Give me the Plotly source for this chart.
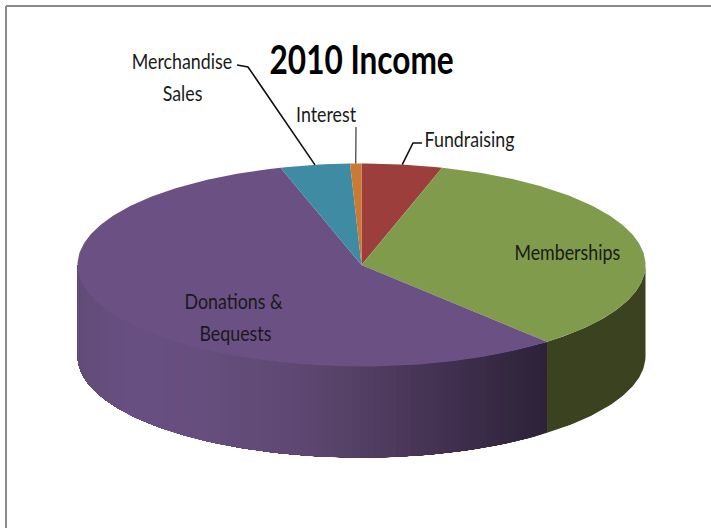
import numpy as np
import plotly.graph_objects as go

# Slices in clockwise order starting from 12 o'clock (percent of income)
categories = ["Fundraising", "Memberships", "Donations & Bequests", "Merchandise Sales", "Interest"]
values = [4.58, 34.09, 56.73, 3.96, 0.64]
top_colors = ["#9c3f3c", "#809b4b", "#6b5084", "#3f8ba3", "#cc7a33"]
title = "2010 Income"

# Presentation geometry of the tilted disc (pixels)
CX, CY, RX, RY, DEPTH = 361.5, 265.0, 284.0, 101.5, 91.0
FONT = "Lato, sans-serif"
GRAD_X = [78, 130, 200, 300, 360, 450, 547]
GRAD_RGB = [(98, 76, 120), (104, 79, 130), (102, 78, 126), (94, 72, 114), (84, 63, 100), (65, 48, 79), (44, 34, 56)]
MEMBER_SIDE = "#3a421f"

fracs = np.array(values, dtype=float) / sum(values)
edges = np.concatenate([[0], np.cumsum(fracs)]) * 2 * np.pi


def px(t):
    return CX + RX * np.sin(t)


def py(t):
    return CY - RY * np.cos(t)


fig = go.Figure()


def add_poly(x, y, color):
    fig.add_trace(go.Scatter(x=list(x), y=list(y), mode="lines", fill="toself", fillcolor=color,
                             line=dict(color=color, width=0), hoverinfo="skip", showlegend=False))


def side(t0, t1, color):
    t = np.linspace(t0, t1, max(3, int((t1 - t0) * 80)))
    add_poly(np.r_[px(t), px(t[::-1])], np.r_[py(t), py(t[::-1]) + DEPTH], color)


# Outer wall: Memberships slice is flat, Donations slice is shaded by horizontal position.
# Each strip runs to the end of the wall and the next one paints over it, so no seams appear.
mem_idx, don_idx = 1, 2
side(np.pi / 2, edges[mem_idx + 1], MEMBER_SIDE)
strip_edges = np.linspace(edges[don_idx], 1.5 * np.pi, 90)
for a, b in zip(strip_edges[:-1], strip_edges[1:]):
    xm = px((a + b) / 2)
    rgb = [int(round(np.interp(xm, GRAD_X, [c[i] for c in GRAD_RGB]))) for i in range(3)]
    side(a, 1.5 * np.pi, f"rgb({rgb[0]},{rgb[1]},{rgb[2]})")

# Top face
for i, color in enumerate(top_colors):
    t = np.linspace(edges[i], edges[i + 1], max(3, int(fracs[i] * 400)))
    add_poly(np.r_[CX, px(t), CX], np.r_[CY, py(t), CY], color)

# Leader lines from slice mid-points to their labels
mid = (edges[:-1] + edges[1:]) / 2
leader_color = "#111111"
legs = [
    (0, [(413, 143), (422, 143)]),
    (3, [(248, 67), (237, 65)]),
    (4, [(356, 127)]),
]
for idx, pts in legs:
    xs = [px(mid[idx])] + [p[0] for p in pts]
    ys = [py(mid[idx])] + [p[1] for p in pts]
    fig.add_trace(go.Scatter(x=xs, y=ys, mode="lines", line=dict(color=leader_color, width=1.6 if idx != 4 else 1),
                             hoverinfo="skip", showlegend=False))

# Labels
labels = [
    ("Fundraising", 469, 138),
    ("Memberships", 567, 251),
    ("Donations &", 234, 300),
    ("Bequests", 235, 332),
    ("Merchandise", 182, 60),
    ("Sales", 182, 92),
    ("Interest", 325.5, 113),
]
anns = [dict(x=x, y=y, text=t, showarrow=False, xref="x", yref="y", align="center",
             font=dict(family=FONT, size=22, color="#1a1a1a")) for t, x, y in labels]
anns.append(dict(x=361.5, y=58, text=f"<b>{title}</b>", showarrow=False, xref="x", yref="y",
                 font=dict(family=FONT, size=41, color="#000000")))

fig.update_layout(
    width=711, height=528, margin=dict(l=0, r=0, t=0, b=0),
    paper_bgcolor="white", plot_bgcolor="white", showlegend=False, annotations=anns,
    xaxis=dict(range=[0, 711], visible=False, fixedrange=True),
    yaxis=dict(range=[528, 0], visible=False, fixedrange=True),
    shapes=[
        dict(type="line", x0=6, x1=711, y0=6, y1=6, line=dict(color="#8a8a8a", width=2)),
        dict(type="line", x0=6, x1=6, y0=6, y1=528, line=dict(color="#8a8a8a", width=2)),
    ],
)

# The reference face is condensed; no condensed family is installed, so narrow the real text.
condense = """
document.body.style.margin='0';document.body.style.overflow='hidden';
document.querySelectorAll('text.annotation-text').forEach(function(el){
  var s = parseFloat(el.style.fontSize) > 30 ? 0.77 : 0.81;
  var b = el.getBBox(); var c = b.x + b.width/2;
  el.setAttribute('transform','translate('+c+',0) scale('+s+',1) translate('+(-c)+',0)');
});
"""
fig.write_html("out.html", config={"displayModeBar": False}, post_script=condense)
